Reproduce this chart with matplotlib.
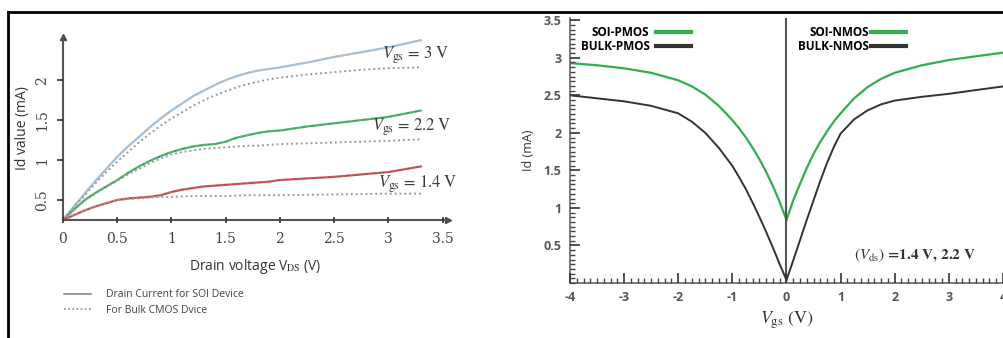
import numpy as np
import matplotlib
matplotlib.use("Agg")
import matplotlib.pyplot as plt
from matplotlib.lines import Line2D
from matplotlib.ticker import MultipleLocator

plt.rcParams['mathtext.fontset'] = 'stix'

# left chart: drain current vs drain voltage
vds = [0, 0.1, 0.2, 0.3, 0.4, 0.5, 0.6, 0.7, 0.8, 0.9, 1.0, 1.1, 1.2, 1.3, 1.4, 1.5,
       1.6, 1.7, 1.8, 1.9, 2.0, 2.25, 2.5, 2.75, 3.0, 3.3]
soi_3v = [0.25, 0.42, 0.58, 0.74, 0.89, 1.04, 1.17, 1.29, 1.41, 1.52, 1.62, 1.71, 1.80,
          1.87, 1.94, 2.0, 2.05, 2.09, 2.12, 2.14, 2.16, 2.22, 2.29, 2.35, 2.41, 2.5]
bulk_3v = [0.25, 0.41, 0.56, 0.71, 0.85, 0.98, 1.10, 1.22, 1.33, 1.43, 1.52, 1.60, 1.68,
           1.75, 1.81, 1.86, 1.91, 1.95, 1.98, 2.01, 2.03, 2.07, 2.1, 2.13, 2.15, 2.16]
soi_22v = [0.25, 0.38, 0.5, 0.59, 0.67, 0.75, 0.84, 0.92, 0.99, 1.05, 1.10, 1.14, 1.17,
           1.19, 1.2, 1.23, 1.28, 1.31, 1.34, 1.36, 1.37, 1.42, 1.46, 1.5, 1.54, 1.62]
bulk_22v = [0.25, 0.37, 0.49, 0.58, 0.66, 0.74, 0.82, 0.89, 0.96, 1.02, 1.07, 1.10, 1.12,
            1.14, 1.15, 1.16, 1.17, 1.18, 1.18, 1.19, 1.2, 1.21, 1.22, 1.23, 1.24, 1.26]
soi_14v = [0.25, 0.31, 0.37, 0.42, 0.46, 0.5, 0.52, 0.53, 0.54, 0.56, 0.6, 0.63, 0.65,
           0.67, 0.68, 0.69, 0.70, 0.71, 0.72, 0.73, 0.75, 0.77, 0.79, 0.82, 0.85, 0.92]
bulk_14v = [0.25, 0.31, 0.37, 0.42, 0.46, 0.5, 0.51, 0.52, 0.53, 0.54, 0.54, 0.545, 0.55,
            0.55, 0.55, 0.55, 0.555, 0.56, 0.56, 0.56, 0.56, 0.565, 0.57, 0.575, 0.58, 0.58]
left_xticks = [0, 0.5, 1, 1.5, 2, 2.5, 3, 3.5]
left_yticks = [0.5, 1, 1.5, 2]

# right chart: drain current vs gate voltage
vgs_p = [-4, -3.5, -3, -2.5, -2, -1.75, -1.5, -1.25, -1, -0.875, -0.75, -0.625, -0.5,
         -0.375, -0.25, -0.125, 0]
soi_pmos = [2.93, 2.9, 2.86, 2.80, 2.70, 2.62, 2.51, 2.36, 2.17, 2.06, 1.94, 1.80, 1.65,
            1.48, 1.29, 1.08, 0.84]
bulk_pmos = [2.5, 2.46, 2.42, 2.36, 2.26, 2.15, 2.0, 1.8, 1.56, 1.41, 1.25, 1.07, 0.88,
             0.68, 0.47, 0.25, 0.04]
vgs_n = [0, 0.125, 0.25, 0.375, 0.5, 0.625, 0.75, 0.875, 1, 1.25, 1.5, 1.75, 2, 2.5, 3,
         3.5, 4.02]
soi_nmos = [0.84, 1.1, 1.32, 1.53, 1.72, 1.88, 2.02, 2.15, 2.26, 2.46, 2.61, 2.72, 2.80,
            2.9, 2.97, 3.02, 3.07]
bulk_nmos = [0.04, 0.3, 0.57, 0.84, 1.1, 1.36, 1.6, 1.81, 1.99, 2.18, 2.3, 2.38, 2.43,
             2.48, 2.52, 2.57, 2.62]

fig = plt.figure(figsize=(10.04, 3.38), dpi=100)

# ---------------- left panel
ax1 = fig.add_axes([63/1004, 118/338, 385/1004, 183/338])
ax1.set_xlim(0, 3.55)
ax1.set_ylim(0.25, 2.54)
ax1.set_xticks(left_xticks)
ax1.set_xticklabels(['0', '0.5', '1', '1.5', '2', '2.5', '3', '3.5'],
                    family='DejaVu Serif', fontsize=10, color='#444444')
ax1.set_yticks(left_yticks)
ax1.set_yticklabels(['0.5', '1', '1.5', '2'], family='DejaVu Serif', fontsize=10,
                    color='#444444', rotation=90, va='center')

ax1.plot(vds, soi_3v, color='#9cc2e5', lw=1.6)
ax1.plot(vds, soi_3v, color='#f0a868', lw=0.8, ls=(0, (3, 6)), alpha=0.8)
ax1.plot(vds, bulk_3v, color='#9a9a9a', lw=1.4, ls=(0, (1, 1.5)))
ax1.plot(vds, soi_22v, color='#4fb472', lw=1.6)
ax1.plot(vds, soi_22v, color='#3c7a52', lw=0.7, ls=(0, (3, 6)), alpha=0.6)
ax1.plot(vds, bulk_22v, color='#9a9a9a', lw=1.4, ls=(0, (1, 1.5)))
ax1.plot(vds, soi_14v, color='#c8585a', lw=1.6)
ax1.plot(vds, soi_14v, color='#7a3a3a', lw=0.7, ls=(0, (3, 6)), alpha=0.5)
ax1.plot(vds, bulk_14v, color='#9a9a9a', lw=1.4, ls=(0, (1, 1.5)))

for s in ['top', 'right']:
    ax1.spines[s].set_visible(False)
for s in ['left', 'bottom']:
    ax1.spines[s].set_color('#555555')
    ax1.spines[s].set_linewidth(1.5)
ax1.plot(1, 0.25, '>', color='#444444', ms=5, transform=ax1.get_yaxis_transform(), clip_on=False)
ax1.plot(0, 1, '^', color='#444444', ms=5, transform=ax1.get_xaxis_transform(), clip_on=False)
ax1.set_xlabel(r'Drain voltage V$_{\rm DS}$ (V)', fontsize=10, color='#333333',
               family='Open Sans', labelpad=8)
ax1.set_ylabel('Id value (mA)', fontsize=10, color='#333333', family='Open Sans', labelpad=4)

vgs_labels = [r'$V_{\rm gs}$ = 3 V', r'$V_{\rm gs}$ = 2.2 V', r'$V_{\rm gs}$ = 1.4 V']
label_pos = [(2.94, 2.31), (2.85, 1.41), (2.9, 0.70)]
for txt, (lx, ly) in zip(vgs_labels, label_pos):
    ax1.text(lx, ly, txt, fontsize=12, color='#3a3a3a', family='STIXGeneral', va='center')

proxy = [Line2D([], [], color='#888888', lw=1.2),
         Line2D([], [], color='#888888', lw=1.2, ls=(0, (1, 1.5)))]
fig.legend(proxy, ['Drain Current for SOI Device', 'For Bulk CMOS Dvice'],
           loc='upper left', bbox_to_anchor=(55/1004, 1 - 280/338), frameon=False,
           handlelength=2.6, handletextpad=1.4, labelspacing=0.45,
           prop={'family': 'Open Sans', 'size': 7.5}, labelcolor='#444444')

# ---------------- right panel
ax2 = fig.add_axes([570/1004, 55/338, 434/1004, 265/338])
ax2.set_xlim(-4, 4.02)
ax2.set_ylim(0, 3.53)
ax2.set_xticks([-4, -3, -2, -1, 0, 1, 2, 3, 4])
ax2.set_xticklabels(['-4', '-3', '-2', '-1', '0', '1', '2', '3', '4'],
                    fontsize=9, fontweight='bold', color='#555555', family='Open Sans')
ax2.set_yticks([0.5, 1, 1.5, 2, 2.5, 3, 3.5])
ax2.set_yticklabels(['0.5', '1', '1.5', '2', '2.5', '3', '3.5'],
                    fontsize=9, fontweight='bold', color='#555555', family='Open Sans')
ax2.xaxis.set_minor_locator(MultipleLocator(0.125))
ax2.yaxis.set_minor_locator(MultipleLocator(0.0625))

l1, = ax2.plot(vgs_p, soi_pmos, color='#2eb04f', lw=1.6)
l2, = ax2.plot(vgs_p, bulk_pmos, color='#333333', lw=1.4)
l3, = ax2.plot(vgs_n, soi_nmos, color='#2eb04f', lw=1.6)
l4, = ax2.plot(vgs_n, bulk_nmos, color='#333333', lw=1.4)
ax2.axvline(0, color='#555555', lw=1.5)
for s in ['top', 'right']:
    ax2.spines[s].set_visible(False)
for s in ['left', 'bottom']:
    ax2.spines[s].set_color('#666666')
    ax2.spines[s].set_linewidth(1.2)
ax2.set_xlabel(r'$V_{\rm gs}$ (V)', fontsize=13, color='#333333', family='STIXGeneral', labelpad=4)
ax2.set_ylabel('Id (mA)', fontsize=9, color='#333333', family='Open Sans', labelpad=6)
ax2.text(1.24, 0.37, r'$(V_{\rm ds})$ =1.4 V, 2.2 V', fontsize=11, color='#333333',
         family='STIXGeneral', fontweight='bold', va='center')

leg1 = ax2.legend([l1, l2], ['SOI-PMOS', 'BULK-PMOS'], loc='upper left',
                  bbox_to_anchor=(0.0, 1.01), frameon=False, markerfirst=False,
                  handlelength=3, handletextpad=0.5, labelspacing=0.1,
                  prop={'family': 'Open Sans', 'size': 8.5, 'weight': 'bold'})
ax2.add_artist(leg1)
for h in leg1.legend_handles:
    h.set_linewidth(3)
leg2 = ax2.legend([l3, l4], ['SOI-NMOS', 'BULK-NMOS'], loc='upper left',
                  bbox_to_anchor=(0.5, 1.01), frameon=False, markerfirst=False,
                  handlelength=3, handletextpad=0.2, labelspacing=0.1,
                  prop={'family': 'Open Sans', 'size': 8.5, 'weight': 'bold'})
for h in leg2.legend_handles:
    h.set_linewidth(3)

# tick marks set last so nothing above overrides them
ax1.tick_params(axis='x', direction='inout', length=5, width=1.2, color='#333333', pad=6)
ax1.tick_params(axis='y', direction='out', length=4, width=1.2, color='#333333', pad=6)
ax2.tick_params(which='major', direction='in', length=7, width=1.2, color='#333333', pad=6)
ax2.tick_params(which='minor', direction='in', length=3.5, width=1, color='#444444')
for a in (ax1, ax2):
    a.set_axisbelow(False)

# outer frame lines
fig.add_artist(Line2D([8/1004, 8/1004], [0, 1 - 12/338], color='black', lw=2))
fig.add_artist(Line2D([8/1004, 1], [1 - 12/338, 1 - 12/338], color='black', lw=2))

fig.savefig('out.png', dpi=100)
